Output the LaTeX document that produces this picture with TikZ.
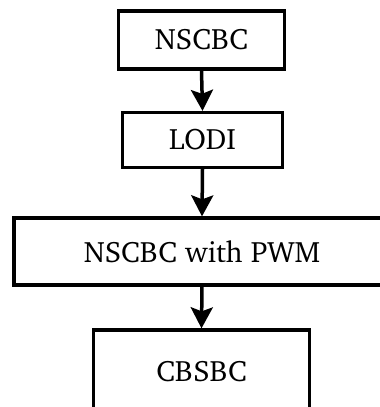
\documentclass[tikz,border=0pt]{standalone}
\usepackage[T1]{fontenc}
\usepackage{charter}
\usetikzlibrary{arrows.meta}
\begin{document}
\begin{tikzpicture}[x=1pt,y=-1pt,
  box/.style={draw=black,line width=3.3pt,fill=white,inner sep=0pt,
    font=\fontsize{29.5}{33}\selectfont},
  flow/.style={line width=3.5pt,-{Stealth[length=21pt,width=22pt,inset=4pt]}}]
\useasboundingbox (0,0) rectangle (380,407);
\node[box,minimum width=166pt,minimum height=58pt] (n1) at (201.5,40) {NSCBC};
\node[box,minimum width=160pt,minimum height=55pt] (n2) at (202.5,140) {LODI};
\node[box,minimum width=376pt,minimum height=67pt] (n3) at (202,251.5) {NSCBC with PWM};
\node[box,minimum width=216pt,minimum height=82pt,text depth=0pt] (n4) at (201.5,371) {CBSBC};
\draw[flow] (n1.south) -- (n2.north);
\draw[flow] (n2.south) -- (n3.north);
\draw[flow] (n3.south) -- (n4.north);
\end{tikzpicture}
\end{document}
